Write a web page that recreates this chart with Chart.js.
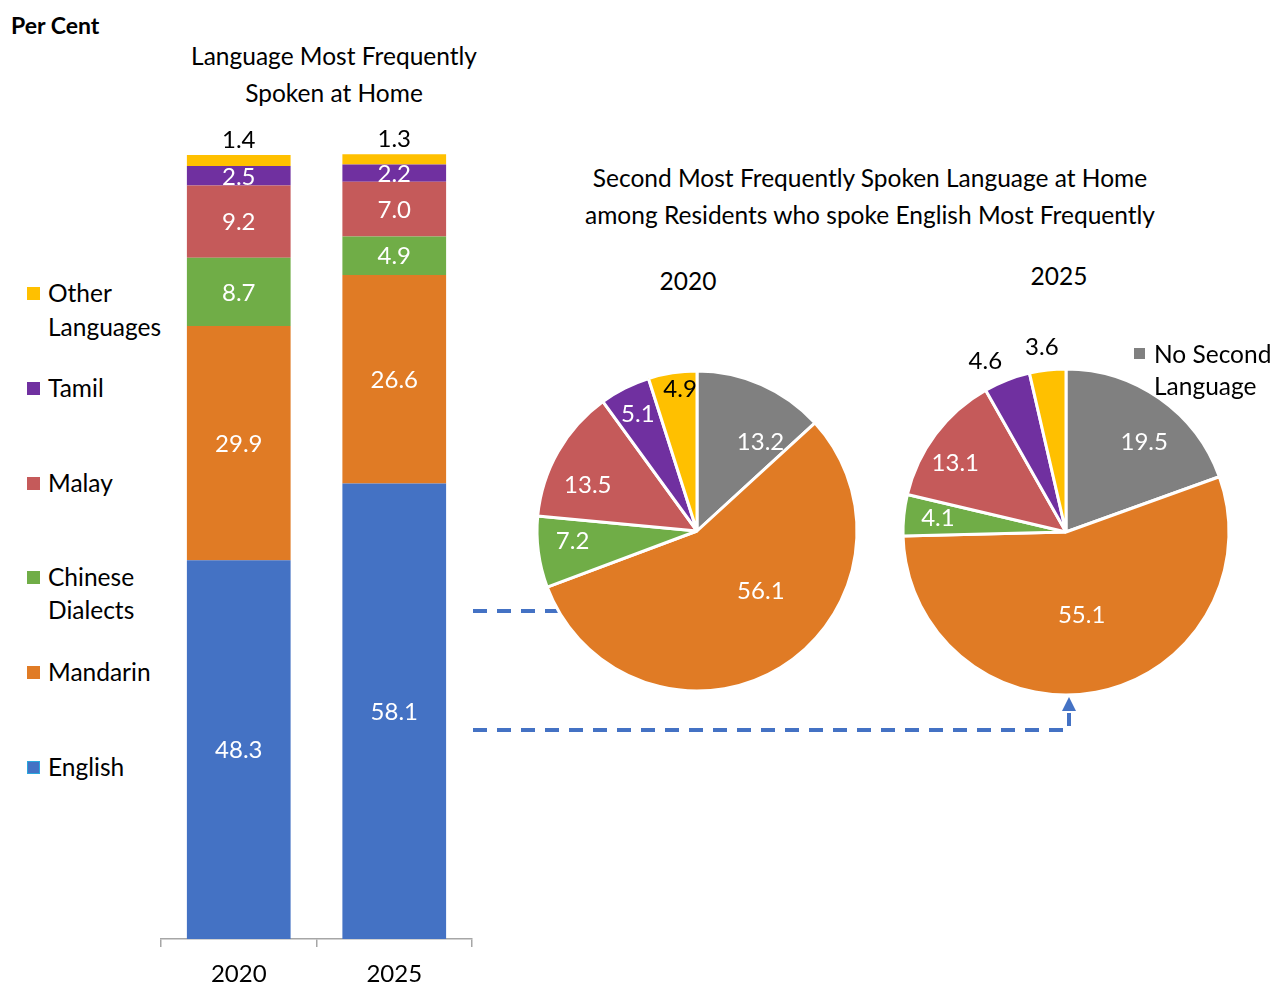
<!DOCTYPE html>
<html lang="en">
  <head>
    <meta charset="UTF-8" />
    <title>Language Most Frequently Spoken at Home</title>
    <style>
      body { margin: 0; background: #fff; }
      .page {
        position: relative;
        width: 1272px;
        height: 985px;
        font-family: Lato, "Noto Sans", sans-serif;
        font-size: 24.5px;
        line-height: 30px;
        color: #000;
        overflow: hidden;
      }
      .abs { position: absolute; }
      .center { text-align: center; }
      .legend-item { position: absolute; left: 48px; line-height: 34px; }
      .swatch { position: absolute; width: 13px; height: 13px; }
      canvas { position: absolute; }
    </style>
  </head>
  <body>
    <div class="page">
      <svg class="abs" style="left:0;top:0" width="1272" height="985">
        <path d="M473 611 H560" stroke="#4472c4" stroke-width="4" stroke-dasharray="14 10" fill="none" />
        <path d="M473 730 H1069 V713" stroke="#4472c4" stroke-width="4" stroke-dasharray="14 10" fill="none" />
        <polygon points="1069,697 1062,711 1076,711" fill="#4472c4" />
      </svg>

      <div class="abs" style="left:11px;top:10px;font-weight:bold;font-size:23px">Per Cent</div>
      <div class="abs center" style="left:134px;top:37px;width:400px;line-height:37px">
        Language Most Frequently<br />Spoken at Home
      </div>
      <div class="abs center" style="left:520px;top:159px;width:700px;line-height:37px">
        Second Most Frequently Spoken Language at Home<br />among Residents who spoke English Most Frequently
      </div>
      <div class="abs center" style="left:638px;top:266px;width:100px">2020</div>
      <div class="abs center" style="left:1009px;top:261px;width:100px">2025</div>

      <!-- left legend -->
      <div class="swatch" style="left:27px;top:287px;background:#ffc000"></div>
      <div class="legend-item" style="top:276px">Other<br />Languages</div>
      <div class="swatch" style="left:27px;top:382px;background:#7030a0"></div>
      <div class="legend-item" style="top:371px">Tamil</div>
      <div class="swatch" style="left:27px;top:477px;background:#c55a5a"></div>
      <div class="legend-item" style="top:466px">Malay</div>
      <div class="swatch" style="left:27px;top:571px;background:#70ad47"></div>
      <div class="legend-item" style="top:560px;line-height:33px">Chinese<br />Dialects</div>
      <div class="swatch" style="left:27px;top:666px;background:#e07b25"></div>
      <div class="legend-item" style="top:655px">Mandarin</div>
      <div class="swatch" style="left:27px;top:761px;background:#4472c4;box-shadow:0 0 0 1px #2aa7dd inset"></div>
      <div class="legend-item" style="top:750px">English</div>

      <canvas id="barChart" style="left:150px;top:100px" width="340" height="885"></canvas>
      <canvas id="pie2020" style="left:527px;top:351px" width="340" height="360"></canvas>
      <canvas id="pie2025" style="left:866px;top:332px" width="400" height="400"></canvas>

      <div class="swatch" style="left:1134px;top:348px;width:11px;height:11px;background:#808080"></div>
      <div class="abs" style="left:1154px;top:338px;line-height:32px">No Second<br />Language</div>
    </div>

    <script src="https://cdn.jsdelivr.net/npm/chart.js@4.4.0/dist/chart.umd.min.js"></script>
    <script>
      // Stacked bar data (per cent of residents)
      const barYears = ["2020", "2025"];
      const english = [48.3, 58.1];
      const mandarin = [29.9, 26.6];
      const dialects = [8.7, 4.9];
      const malay = [9.2, 7.0];
      const tamil = [2.5, 2.2];
      const otherLangs = [1.4, 1.3];

      // Pie data: second language among English speakers
      const pieLabels = [
        "No Second Language",
        "Mandarin",
        "Chinese Dialects",
        "Malay",
        "Tamil",
        "Other Languages",
      ];
      const pie2020 = [13.2, 56.1, 7.2, 13.5, 5.1, 4.9];
      const pie2025 = [19.5, 55.1, 4.1, 13.1, 4.6, 3.6];

      const FONT = "Lato, 'Noto Sans', sans-serif";
      const pieColors = ["#808080", "#e07b25", "#70ad47", "#c55a5a", "#7030a0", "#ffc000"];

      // draws value labels on bars and pie slices
      const valueLabels = {
        id: "valueLabels",
        afterDatasetsDraw(chart, args, opts) {
          const ctx = chart.ctx;
          ctx.save();
          ctx.font = "24px " + FONT;
          ctx.textAlign = "center";
          ctx.textBaseline = "middle";
          chart.data.datasets.forEach((ds, di) => {
            const meta = chart.getDatasetMeta(di);
            meta.data.forEach((el, i) => {
              const txt = ds.data[i].toFixed(1);
              if (chart.config.type === "bar") {
                const p = el.getCenterPoint();
                if (di === chart.data.datasets.length - 1) {
                  ctx.fillStyle = "#000";
                  ctx.fillText(txt, p.x, el.y - 15);
                } else {
                  ctx.fillStyle = "#fff";
                  ctx.fillText(txt, p.x, p.y + 1);
                }
              } else {
                // label sits along the slice's mid angle, nudged per slice
                const mid = (el.startAngle + el.endAngle) / 2 + (opts.shifts[i] * Math.PI) / 180;
                const r = el.outerRadius * opts.radii[i];
                ctx.fillStyle = opts.colors[i];
                ctx.fillText(txt, el.x + Math.cos(mid) * r, el.y + Math.sin(mid) * r);
              }
            });
          });
          ctx.restore();
        },
      };

      const barSeries = [
        ["English", english, "#4472c4"],
        ["Mandarin", mandarin, "#e07b25"],
        ["Chinese Dialects", dialects, "#70ad47"],
        ["Malay", malay, "#c55a5a"],
        ["Tamil", tamil, "#7030a0"],
        ["Other Languages", otherLangs, "#ffc000"],
      ];

      new Chart(document.getElementById("barChart"), {
        type: "bar",
        data: {
          labels: barYears,
          datasets: barSeries.map(([label, data, color]) => ({
            label,
            data,
            backgroundColor: color,
            borderWidth: 0,
            barPercentage: 1,
            categoryPercentage: 0.667,
            clip: false,
          })),
        },
        options: {
          responsive: false,
          animation: false,
          layout: { padding: { left: 11, right: 18, top: 55, bottom: 0 } },
          plugins: {
            legend: { display: false },
            tooltip: { enabled: false },
            valueLabels: {},
          },
          scales: {
            x: {
              stacked: true,
              afterFit(scale) {
                scale.height = 46;
              },
              grid: {
                offset: true,
                drawOnChartArea: false,
                drawTicks: true,
                tickLength: 8,
                color: "#a6a6a6",
                lineWidth: 1.5,
              },
              border: { color: "#a6a6a6", width: 1.5 },
              ticks: {
                color: "#000",
                padding: 13,
                font: { size: 24, family: FONT },
              },
            },
            y: {
              stacked: true,
              display: false,
              min: 0,
              max: 100,
            },
          },
        },
        plugins: [valueLabels],
      });

      function makePie(id, values, radius, label) {
        return new Chart(document.getElementById(id), {
          type: "pie",
          data: {
            labels: pieLabels,
            datasets: [
              {
                data: values,
                backgroundColor: pieColors,
                borderColor: "#fff",
                borderWidth: 3,
              },
            ],
          },
          options: {
            responsive: false,
            animation: false,
            radius: radius,
            plugins: {
              legend: { display: false },
              tooltip: { enabled: false },
              valueLabels: label,
            },
          },
          plugins: [valueLabels],
        });
      }

      makePie("pie2020", pie2020, 160, {
        radii: [0.68, 0.55, 0.78, 0.74, 0.82, 0.89],
        shifts: [12, -15, 3, -7, 0, 2],
        colors: ["#fff", "#fff", "#fff", "#fff", "#fff", "#000"],
      });
      makePie("pie2025", pie2025, 163, {
        radii: [0.73, 0.52, 0.79, 0.8, 1.16, 1.14],
        shifts: [6, 0, 0, -5, -4, -1],
        colors: ["#fff", "#fff", "#fff", "#fff", "#000", "#000"],
      });
    </script>
  </body>
</html>
